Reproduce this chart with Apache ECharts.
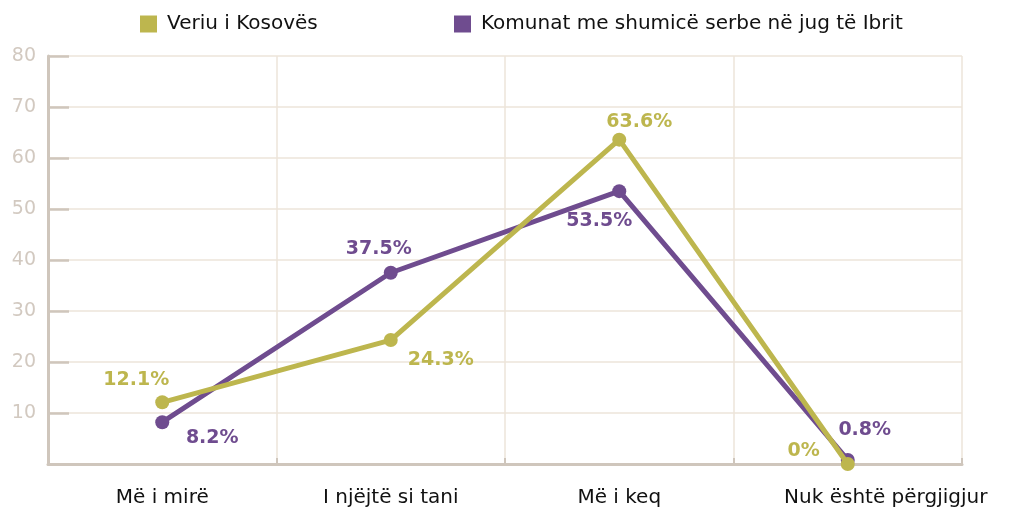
<!DOCTYPE html>
<html>
<head>
<meta charset="utf-8">
<script src="https://cdn.jsdelivr.net/npm/echarts@6/dist/echarts.min.js"></script>
<style>
  html, body { margin: 0; padding: 0; background: #fff; }
  #main { width: 1010px; height: 507px; }
</style>
</head>
<body>
<div id="main"></div>
<script>
// kategorite dhe vlerat (%)
var categories = ['Më i mirë', 'I njëjtë si tani', 'Më i keq', 'Nuk është përgjigjur'];
var seriesNames = ['Veriu i Kosovës', 'Komunat me shumicë serbe në jug të Ibrit'];
var veriuValues = [12.1, 24.3, 63.6, 0];
var komunatValues = [8.2, 37.5, 53.5, 0.8];
var yTicks = [10, 20, 30, 40, 50, 60, 70, 80];

// zhvendosja e etiketave nga pika
var veriuOffsets = [[-26, -22], [50, 20], [20, -18], [-44, -13]];
var komunatOffsets = [[50, 16], [-12, -24], [-20, 30], [17, -30]];

var OLIVE = '#bdb64e';
var PURPLE = '#6f4c8f';
var AXIS = '#cfc6bc';
var GRID = '#ece5da';
var FONT = '"DejaVu Sans", sans-serif';

function buildData(values, offsets) {
    var out = [];
    for (var i = 0; i < values.length; i++) {
        out.push({
            value: values[i],
            label: { offset: offsets[i] }
        });
    }
    return out;
}

var chart = echarts.init(document.getElementById('main'));

var legendText = { fontFamily: FONT, fontSize: 20, color: '#111', padding: [0, 0, 0, 5] };

var option = {
    backgroundColor: '#fff',
    animation: false,
    legend: [
        {
            left: 140, top: 14, padding: 0,
            itemWidth: 17, itemHeight: 17,
            icon: 'rect',
            data: [seriesNames[0]],
            textStyle: legendText
        },
        {
            left: 454, top: 14, padding: 0,
            itemWidth: 17, itemHeight: 17,
            icon: 'rect',
            data: [seriesNames[1]],
            textStyle: legendText
        }
    ],
    grid: { left: 48, right: 48, top: 56, bottom: 43, outerBoundsMode: 'none' },
    xAxis: {
        type: 'category',
        data: categories.map(function (c, i) {
            return i === categories.length - 1 ? { value: c, textStyle: { padding: [0, 0, 0, 76] } } : c;
        }),
        boundaryGap: true,
        axisLine: { lineStyle: { color: AXIS, width: 3 } },
        axisTick: { show: true, inside: true, length: 6, lineStyle: { color: AXIS, width: 2 } },
        axisLabel: { fontFamily: FONT, fontSize: 20, color: '#111', margin: 24, interval: 0 },
        splitLine: { show: true, lineStyle: { color: GRID, width: 1.5 } }
    },
    yAxis: {
        type: 'value',
        min: 0, max: 80, interval: 10,
        axisLine: { show: true, lineStyle: { color: AXIS, width: 3 } },
        axisTick: { show: true, inside: true, length: 21, lineStyle: { color: AXIS, width: 2.5 } },
        axisLabel: {
            fontFamily: FONT, fontSize: 19, color: '#d2c9c0', margin: 12,
            formatter: function (v) { return yTicks.indexOf(v) >= 0 ? v : ''; }
        },
        splitLine: { show: true, lineStyle: { color: GRID, width: 1.5 } }
    },
    series: [
        {
            name: seriesNames[0],
            type: 'line',
            data: buildData(veriuValues, veriuOffsets),
            color: OLIVE,
            symbol: 'circle', symbolSize: 14,
            lineStyle: { width: 5, color: OLIVE },
            itemStyle: { color: OLIVE },
            label: {
                show: true, position: 'inside',
                formatter: '{c}%',
                fontFamily: FONT, fontSize: 19, fontWeight: 'bold', color: OLIVE
            },
            z: 3
        },
        {
            name: seriesNames[1],
            type: 'line',
            data: buildData(komunatValues, komunatOffsets),
            color: PURPLE,
            symbol: 'circle', symbolSize: 14,
            lineStyle: { width: 5, color: PURPLE },
            itemStyle: { color: PURPLE },
            label: {
                show: true, position: 'inside',
                formatter: '{c}%',
                fontFamily: FONT, fontSize: 19, fontWeight: 'bold', color: PURPLE
            },
            z: 2
        }
    ]
};

chart.setOption(option);
</script>
</body>
</html>
